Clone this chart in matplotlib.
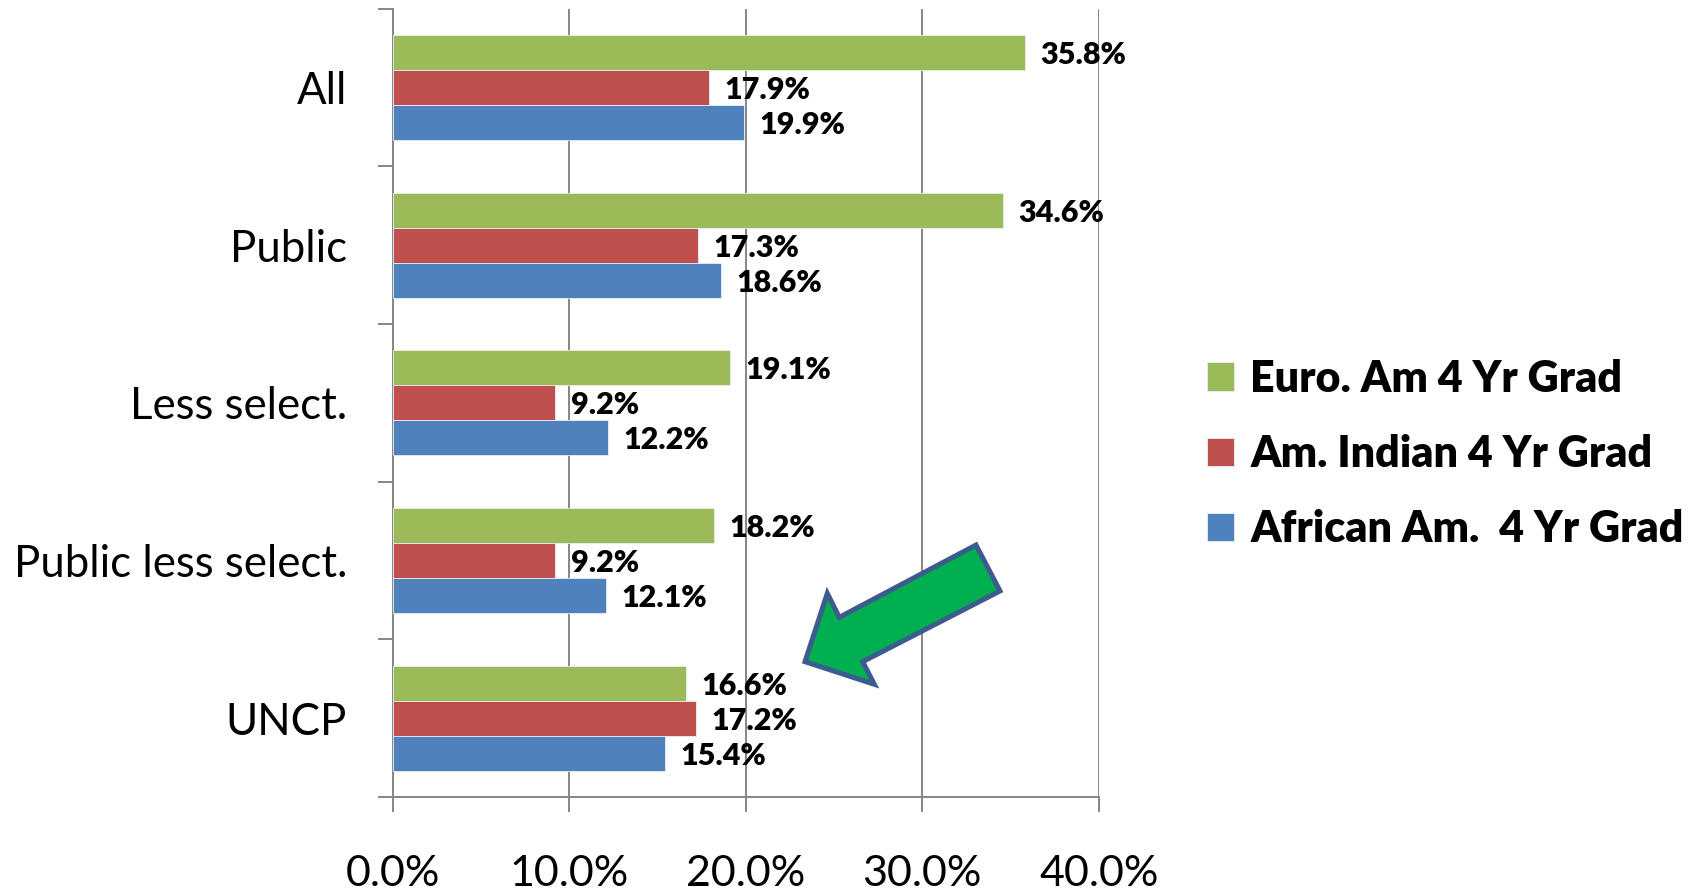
import matplotlib.pyplot as plt
from matplotlib.patches import Polygon
import numpy as np

plt.rcParams['font.family'] = ['Lato', 'DejaVu Sans']

# data
categories = ["All", "Public", "Less select.", "Public less select.", "UNCP"]
euro_am = [35.8, 34.6, 19.1, 18.2, 16.6]
am_indian = [17.9, 17.3, 9.2, 9.2, 17.2]
african_am = [19.9, 18.6, 12.2, 12.1, 15.4]
series_names = ["Euro. Am 4 Yr Grad", "Am. Indian 4 Yr Grad", "African Am.  4 Yr Grad"]
x_ticks = [0, 10, 20, 30, 40]
x_tick_labels = ["0.0%", "10.0%", "20.0%", "30.0%", "40.0%"]

colors = ["#9BBB59", "#C0504D", "#4F81BD"]
grid_col = "#868686"

W, H = 1698, 892
fig = plt.figure(figsize=(W / 100, H / 100), dpi=100)
ax = fig.add_axes([393 / W, 1 - 797 / H, (1098.7 - 393) / W, (797 - 8.5) / H])

y = np.arange(len(categories))
h = 0.222
all_series = [euro_am, am_indian, african_am]
bars = []
for k, vals in enumerate(all_series):
    b = ax.barh(y + (k - 1) * h, vals, height=h, color=colors[k],
                edgecolor="#E8EEF4", linewidth=0.6, label=series_names[k], zorder=3)
    bars.append(b)
    for yy, v in zip(y + (k - 1) * h, vals):
        ax.annotate(f"{v:.1f}%", xy=(v, yy), xytext=(11, 0), textcoords="offset points",
                    ha="left", va="center_baseline", fontsize=22, fontweight="heavy",
                    color="black")

ax.set_xlim(0, 40)
ax.set_ylim(len(categories) - 0.5, -0.5)

ax.set_xticks(x_ticks)
ax.set_xticklabels(x_tick_labels)
ax.grid(axis="x", color=grid_col, linewidth=1.4, zorder=0)
ax.set_axisbelow(True)

ax.set_yticks(np.arange(-0.5, len(categories), 1.0))
ax.set_yticklabels([])
ax.set_yticks(y, minor=True)
ax.set_yticklabels(categories, minor=True)

ax.tick_params(axis="x", direction="out", length=11, width=1.4, color=grid_col,
               labelsize=31, pad=31)
ax.tick_params(axis="y", which="major", direction="out", length=11, width=1.4, color=grid_col)
ax.tick_params(axis="y", which="minor", length=0, labelsize=31.5, pad=33)

for s in ["top", "right"]:
    ax.spines[s].set_visible(False)
for s in ["left", "bottom"]:
    ax.spines[s].set_color(grid_col)
    ax.spines[s].set_linewidth(1.4)

fig.legend(handles=bars, labels=series_names, loc="center left",
           bbox_to_anchor=(1207 / W, 1 - 454 / H), frameon=False, borderpad=0,
           borderaxespad=0,
           prop={"size": 31, "weight": "heavy"}, handlelength=0.63, handleheight=0.63,
           handletextpad=0.38, labelspacing=0.82)

# green arrow pointing at UNCP
arrow_px = [(976, 545), (1000, 591), (862.7, 661.7), (874.3, 684.3),
            (805, 661.7), (827.3, 593.3), (839.3, 617.3)]
arrow = Polygon([(px / W, 1 - py / H) for px, py in arrow_px], closed=True,
                transform=fig.transFigure, facecolor="#00B050", edgecolor="#3B5C8C",
                linewidth=3.6, joinstyle="miter", zorder=10)
fig.patches.append(arrow)

fig.savefig("out.png", dpi=100)
